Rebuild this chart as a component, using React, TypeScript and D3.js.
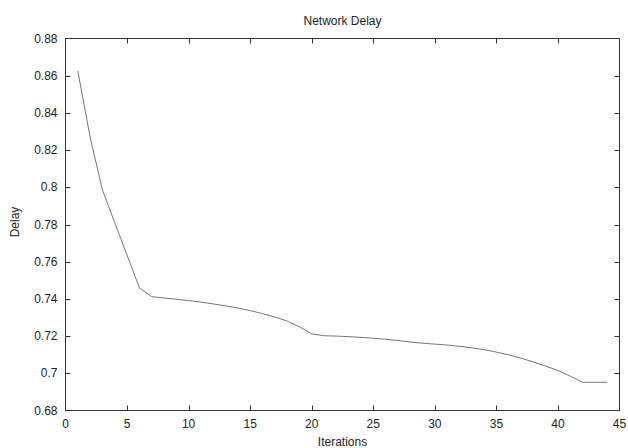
import React, { useEffect, useRef } from "react";
import * as d3 from "d3";

const iterations = [1,2,3,4,5,6,7,8,9,10,11,12,13,14,15,16,17,18,19,20,21,22,23,24,25,26,27,28,29,30,31,32,33,34,35,36,37,38,39,40,41,42,43,44];
const delays = [0.8625,0.827,0.7985,0.781,0.7635,0.746,0.7412,0.7405,0.7398,0.7391,0.7383,0.7373,0.7363,0.7351,0.7337,0.7321,0.7303,0.7281,0.725,0.7212,0.7202,0.72,0.7197,0.7193,0.7189,0.7183,0.7176,0.7168,0.7162,0.7157,0.7152,0.7145,0.7137,0.7127,0.7114,0.7099,0.7081,0.7061,0.7039,0.7015,0.6985,0.6952,0.6952,0.6952];
const xTicks = [0,5,10,15,20,25,30,35,40,45];
const yTicks = [0.68,0.7,0.72,0.74,0.76,0.78,0.8,0.82,0.84,0.86,0.88];
const title = "Network Delay";
const xLabel = "Iterations";
const yLabel = "Delay";

const W = 628, H = 448;
const L = 65.5, R = 619.5, T = 38.5, B = 410.5;

export default function App() {
  const ref = useRef<SVGSVGElement>(null);
  useEffect(() => {
    const svg = d3.select(ref.current);
    svg.selectAll("*").remove();
    const x = d3.scaleLinear().domain([0, 45]).range([L, R]);
    const y = d3.scaleLinear().domain([0.68, 0.88]).range([B, T]);
    const font = "'Liberation Sans', Arial, sans-serif";
    const axisColor = "#333";
    const tl = 5;
    const fs = 12;
    const g = svg.append("g");
    g.append("rect").attr("x", L).attr("y", T).attr("width", R - L).attr("height", B - T)
      .attr("fill", "none").attr("stroke", axisColor).attr("stroke-width", 1);
    xTicks.forEach((t) => {
      const px = Math.round(x(t)) + 0.5;
      if (t > 0 && t < 45) {
        g.append("line").attr("x1", px).attr("x2", px).attr("y1", B).attr("y2", B - tl).attr("stroke", axisColor);
        g.append("line").attr("x1", px).attr("x2", px).attr("y1", T).attr("y2", T + tl).attr("stroke", axisColor);
      }
      g.append("text").attr("x", x(t)).attr("y", B + 17).attr("text-anchor", "middle")
        .attr("font-family", font).attr("font-size", fs).attr("fill", "#222").text(String(t));
    });
    yTicks.forEach((t) => {
      const py = Math.round(y(t)) + 0.5;
      if (t > 0.681 && t < 0.879) {
        g.append("line").attr("x1", L).attr("x2", L + tl).attr("y1", py).attr("y2", py).attr("stroke", axisColor);
        g.append("line").attr("x1", R).attr("x2", R - tl).attr("y1", py).attr("y2", py).attr("stroke", axisColor);
      }
      g.append("text").attr("x", L - 8).attr("y", y(t) + 4).attr("text-anchor", "end")
        .attr("font-family", font).attr("font-size", fs).attr("fill", "#222").text(d3.format("~g")(t));
    });
    const line = d3.line<number>().x((_, i) => x(iterations[i])).y((d) => y(d));
    g.append("path").datum(delays).attr("d", line).attr("fill", "none").attr("stroke", "#777").attr("stroke-width", 1);
    g.append("text").attr("x", (L + R) / 2).attr("y", 25).attr("text-anchor", "middle")
      .attr("font-family", font).attr("font-size", fs).attr("fill", "#222").text(title);
    g.append("text").attr("x", (L + R) / 2).attr("y", 446).attr("text-anchor", "middle")
      .attr("font-family", font).attr("font-size", fs).attr("fill", "#222").text(xLabel);
    g.append("text").attr("transform", `translate(19,222) rotate(-90)`).attr("text-anchor", "middle")
      .attr("font-family", font).attr("font-size", fs).attr("fill", "#222").text(yLabel);
  }, []);
  return (
    <svg ref={ref} width={W} height={H} style={{ position: "absolute", left: 0, top: 0, background: "#fff" }} />
  );
}
